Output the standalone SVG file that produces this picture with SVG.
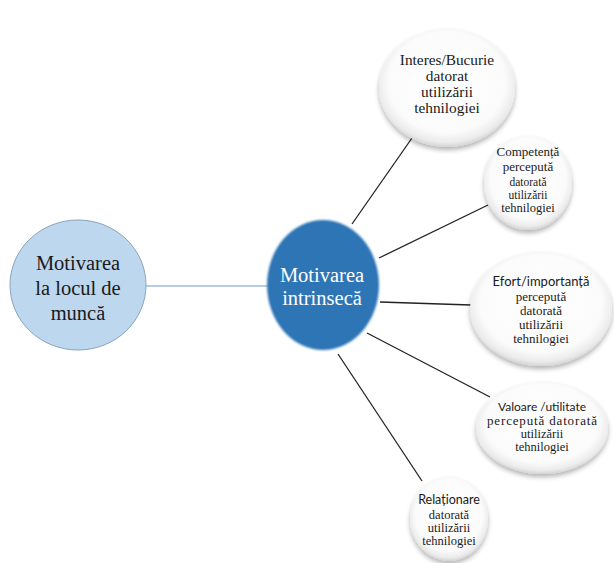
<svg xmlns="http://www.w3.org/2000/svg" width="614" height="563" viewBox="0 0 614 563">
<defs>
<radialGradient id="wg" cx="50%" cy="45%" r="55%">
<stop offset="0" stop-color="#ffffff"/>
<stop offset="0.78" stop-color="#fbfbfb"/>
<stop offset="0.93" stop-color="#ebebeb"/>
<stop offset="1" stop-color="#d4d4d4"/>
</radialGradient>
<filter id="sh" x="-20%" y="-20%" width="140%" height="150%">
<feGaussianBlur in="SourceAlpha" stdDeviation="2.5"/>
<feOffset dx="0" dy="3" result="b"/>
<feComponentTransfer><feFuncA type="linear" slope="0.3"/></feComponentTransfer>
<feMerge><feMergeNode/><feMergeNode in="SourceGraphic"/></feMerge>
</filter>
<filter id="soft" x="-10%" y="-10%" width="120%" height="120%">
<feGaussianBlur stdDeviation="1.2"/>
</filter>
</defs>
<style>
.w{fill:url(#wg);filter:url(#sh);}
.c{stroke:#222;stroke-width:1.3;fill:none;}
text{fill:#1a1a1a;text-anchor:middle;}
</style>
<rect width="614" height="563" fill="#ffffff"/>
<g id="connectors">
<line x1="146" y1="286" x2="269" y2="286" stroke="#6d9ccc" stroke-width="1.2"/>
<line class="c" x1="352" y1="224" x2="412" y2="138"/>
<line class="c" x1="379" y1="258" x2="488" y2="205"/>
<line class="c" x1="380" y1="302" x2="471" y2="305"/>
<line class="c" x1="367" y1="333" x2="490" y2="397"/>
<line class="c" x1="338" y1="354" x2="422" y2="481"/>
</g>
<g id="n-motivarea-munca">
<ellipse cx="78" cy="285" rx="68" ry="65" fill="#bdd7ee" stroke="#8aa4bd" stroke-width="1"/>
<text font-family="'Liberation Serif', 'Times New Roman', serif" font-size="20.5"><tspan x="78" y="270">Motivarea</tspan><tspan x="78" y="295">la locul de</tspan><tspan x="78" y="320">muncă</tspan></text>
</g>
<g id="n-intrinseca">
<ellipse cx="323" cy="285" rx="56" ry="65" fill="#2e75b6" filter="url(#soft)"/>
<ellipse cx="323" cy="285" rx="54" ry="63" fill="#2e75b6"/>
<text font-family="'Liberation Serif', 'Times New Roman', serif" font-size="20.5" style="fill:#ffffff"><tspan x="322" y="282">Motivarea</tspan><tspan x="322" y="305">intrinsecă</tspan></text>
</g>
<g id="n-interes">
<ellipse class="w" cx="447" cy="88" rx="68" ry="59"/>
<text font-family="'Liberation Serif', 'Times New Roman', serif" font-size="15.3"><tspan x="447" y="65">Interes/Bucurie</tspan><tspan x="447" y="81">datorat</tspan><tspan x="447" y="97">utilizării</tspan><tspan x="447" y="113">tehnilogiei</tspan></text>
</g>
<g id="n-competenta">
<ellipse class="w" cx="528" cy="183" rx="44" ry="47"/>
<text font-family="'Liberation Serif', 'Times New Roman', serif" font-size="13"><tspan x="528" y="156">Competență</tspan><tspan x="528" y="171">perceputǎ</tspan><tspan x="528" y="186" font-size="11.5">datorată</tspan><tspan x="528" y="199" font-size="11.5">utilizării</tspan><tspan x="528" y="212" font-size="12.5">tehnilogiei</tspan></text>
</g>
<g id="n-efort">
<ellipse class="w" cx="541" cy="309" rx="71" ry="57"/>
<text font-family="'Liberation Serif', 'Times New Roman', serif" font-size="13"><tspan font-family="Lato, 'Liberation Sans', sans-serif" x="541" y="286">Efort/importanță</tspan><tspan x="541" y="301">perceputǎ</tspan><tspan x="541" y="315">datorată</tspan><tspan x="541" y="329">utilizării</tspan><tspan x="541" y="343">tehnilogiei</tspan></text>
</g>
<g id="n-valoare">
<ellipse class="w" cx="542" cy="428" rx="66" ry="46"/>
<text font-family="'Liberation Serif', 'Times New Roman', serif" font-size="12.5"><tspan font-family="Lato, 'Liberation Sans', sans-serif" font-size="12" x="542" y="411">Valoare /utilitate</tspan><tspan x="542" y="425" font-size="13" textLength="110">perceputǎ datorată</tspan><tspan x="542" y="438">utilizării</tspan><tspan x="542" y="451">tehnilogiei</tspan></text>
</g>
<g id="n-relationare">
<ellipse class="w" cx="449" cy="519" rx="39" ry="42"/>
<text font-family="'Liberation Serif', 'Times New Roman', serif" font-size="12.5"><tspan font-family="Lato, 'Liberation Sans', sans-serif" x="449" y="504">Relaționare</tspan><tspan x="449" y="519">datorată</tspan><tspan x="449" y="532">utilizării</tspan><tspan x="449" y="545">tehnilogiei</tspan></text>
</g>
</svg>
